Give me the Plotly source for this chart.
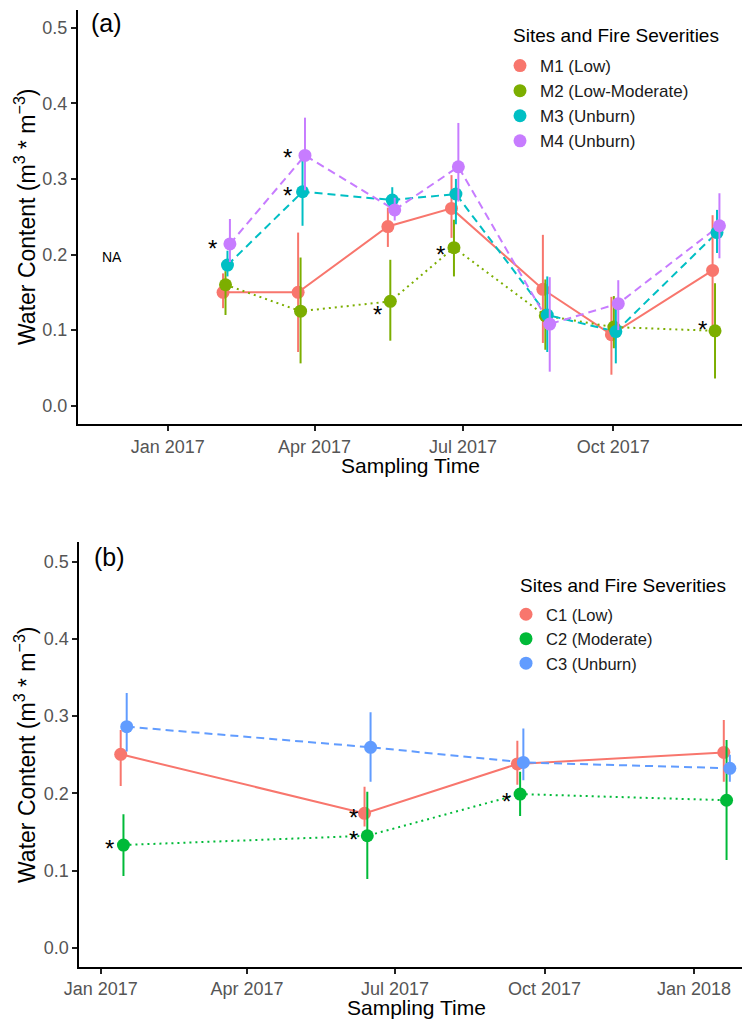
import pandas as pd
import plotly.graph_objects as go

# ---------------- Panel (a) data ----------------
a_dates = ["2017-02-06", "2017-03-24", "2017-05-18", "2017-06-26",
           "2017-08-21", "2017-10-02", "2017-12-03"]
a_sites = ["M1 (Low)", "M2 (Low-Moderate)", "M3 (Unburn)", "M4 (Unburn)"]
a_colors = ["#F8766D", "#7CAE00", "#00BFC4", "#C77CFF"]
a_dashes = ["solid", "2px,4px", "8px,5px", "8px,5px"]

m1_mean = [0.150, 0.150, 0.237, 0.261, 0.154, 0.094, 0.179]
m1_low = [0.129, 0.071, 0.210, 0.222, 0.083, 0.041, 0.105]
m1_high = [0.175, 0.229, 0.262, 0.305, 0.226, 0.144, 0.252]

m2_mean = [0.160, 0.125, 0.138, 0.209, 0.119, 0.104, 0.099]
m2_low = [0.120, 0.056, 0.086, 0.171, 0.074, 0.076, 0.036]
m2_high = [0.178, 0.196, 0.193, 0.246, 0.167, 0.145, 0.162]

m3_mean = [0.186, 0.283, 0.272, 0.280, 0.120, 0.098, 0.229]
m3_low = [0.171, 0.238, 0.257, 0.240, 0.071, 0.056, 0.202]
m3_high = [0.205, 0.330, 0.289, 0.300, 0.171, 0.140, 0.259]

m4_mean = [0.214, 0.331, 0.259, 0.316, 0.108, 0.135, 0.238]
m4_low = [0.190, 0.285, 0.245, 0.270, 0.045, 0.100, 0.195]
m4_high = [0.247, 0.381, 0.275, 0.374, 0.170, 0.166, 0.281]

# significance asterisks (sampling index, value)
a_star_idx = [0, 1, 1, 2, 3, 6]
a_star_val = [0.215, 0.335, 0.284, 0.127, 0.206, 0.107]
a_na_date = "2016-11-28"
a_na_val = 0.197

a_tickvals = ["2017-01-01", "2017-04-01", "2017-07-01", "2017-10-01"]
a_ticktext = ["Jan 2017", "Apr 2017", "Jul 2017", "Oct 2017"]

# ---------------- Panel (b) data ----------------
b_dates = ["2017-01-15", "2017-06-14", "2017-09-16", "2018-01-21"]
b_sites = ["C1 (Low)", "C2 (Moderate)", "C3 (Unburn)"]
b_colors = ["#F8766D", "#00BA38", "#619CFF"]
b_dashes = ["solid", "2px,4px", "8px,5px"]

c1_mean = [0.2505, 0.174, 0.238, 0.253]
c1_low = [0.2095, 0.157, 0.211, 0.215]
c1_high = [0.282, 0.2086, 0.268, 0.295]

c2_mean = [0.133, 0.145, 0.199, 0.191]
c2_low = [0.093, 0.089, 0.1706, 0.1136]
c2_high = [0.173, 0.202, 0.228, 0.269]

c3_mean = [0.2863, 0.2596, 0.240, 0.2324]
c3_low = [0.254, 0.215, 0.217, 0.215]
c3_high = [0.330, 0.305, 0.284, 0.250]

b_star_idx = [0, 1, 1, 2]
b_star_val = [0.135, 0.175, 0.146, 0.196]

b_tickvals = ["2017-01-01", "2017-04-01", "2017-07-01", "2017-10-01", "2018-01-01"]
b_ticktext = ["Jan 2017", "Apr 2017", "Jul 2017", "Oct 2017", "Jan 2018"]

y_tickvals = [0.0, 0.1, 0.2, 0.3, 0.4, 0.5]
y_ticktext = ["0.0", "0.1", "0.2", "0.3", "0.4", "0.5"]

# ---------------- layout geometry ----------------
# page has an 8px body margin, so the figure is drawn 8px in from the corner
OFF = 8
W, H = 750 - OFF, 1019 - OFF
ML = 78 - OFF
FONT = "Liberation Sans, Arial, sans-serif"
TICKCOL = "#555555"


def px_x(px):
    return (px - OFF - ML) / (W - ML)


def px_y(py):
    return 1 - (py - OFF) / H


a_dodge = [-2.1, -0.6, 0.6, 2.1]
b_dodge = [-1.7, 0.0, 2.0]

fig = go.Figure()


def add_panel(dates, sites, colors, dashes, means, lows, highs, dodge,
              xa, ya, legend):
    base = pd.to_datetime(dates)
    xs_all = []
    for i in range(len(sites)):
        xs_all.append(list(base + pd.Timedelta(days=dodge[i])))
    for i in range(len(sites)):
        fig.add_trace(go.Scatter(
            x=xs_all[i], y=means[i], mode="lines", xaxis=xa, yaxis=ya,
            line=dict(color=colors[i], width=2, dash=dashes[i]),
            showlegend=False, hoverinfo="skip"))
    for i in range(len(sites)):
        up = [h - m for h, m in zip(highs[i], means[i])]
        dn = [m - l for m, l in zip(means[i], lows[i])]
        fig.add_trace(go.Scatter(
            x=xs_all[i], y=means[i], mode="markers", name=sites[i],
            xaxis=xa, yaxis=ya, legend=legend,
            marker=dict(color=colors[i], size=13, line=dict(width=0)),
            error_y=dict(type="data", symmetric=False, array=up,
                         arrayminus=dn, color=colors[i], thickness=2,
                         width=0)))


add_panel(a_dates, a_sites, a_colors, a_dashes,
          [m1_mean, m2_mean, m3_mean, m4_mean],
          [m1_low, m2_low, m3_low, m4_low],
          [m1_high, m2_high, m3_high, m4_high],
          a_dodge, "x", "y", "legend")
add_panel(b_dates, b_sites, b_colors, b_dashes,
          [c1_mean, c2_mean, c3_mean],
          [c1_low, c2_low, c3_low],
          [c1_high, c2_high, c3_high],
          b_dodge, "x2", "y2", "legend2")

annotations = []


def ann(**kw):
    d = dict(showarrow=False, xanchor="center", yanchor="middle")
    d.update(kw)
    annotations.append(d)


for idx, val in zip(a_star_idx, a_star_val):
    ann(x=a_dates[idx], y=val, xref="x", yref="y", text="*",
        xshift=-14, yshift=-5,
        font=dict(size=24, color="black", family=FONT))
for idx, val in zip(b_star_idx, b_star_val):
    ann(x=b_dates[idx], y=val, xref="x2", yref="y2", text="*",
        xshift=-14, yshift=-5,
        font=dict(size=24, color="black", family=FONT))
ann(x=a_na_date, y=a_na_val, xref="x", yref="y", text="NA",
    font=dict(size=14, color="black", family=FONT))

# panel labels
ann(x=px_x(106), y=px_y(23), xref="paper", yref="paper", text="(a)",
    font=dict(size=25, color="black", family=FONT))
ann(x=px_x(109), y=px_y(557), xref="paper", yref="paper", text="(b)",
    font=dict(size=25, color="black", family=FONT))

# axis titles
ytitle = "Water Content (m<sup>3</sup> * m<sup>\u22123</sup>)"
for cy in (217, 755):
    ann(x=px_x(25), y=px_y(cy), xref="paper", yref="paper", text=ytitle,
        textangle=-90, font=dict(size=23, color="black", family=FONT))
for cx, cy in ((410, 465), (416, 1007)):
    ann(x=px_x(cx), y=px_y(cy), xref="paper", yref="paper",
        text="Sampling Time", font=dict(size=21, color="black", family=FONT))

# legend titles
ann(x=px_x(511), y=px_y(35), xref="paper", yref="paper", xanchor="left",
    text="Sites and Fire Severities",
    font=dict(size=19, color="black", family=FONT))
ann(x=px_x(518), y=px_y(585), xref="paper", yref="paper", xanchor="left",
    text="Sites and Fire Severities",
    font=dict(size=19, color="black", family=FONT))

axis_common = dict(showline=True, linecolor="black", linewidth=2,
                   ticks="outside", ticklen=5, tickwidth=2, tickcolor="#222222",
                   showgrid=False, zeroline=False,
                   tickfont=dict(size=18, color=TICKCOL, family=FONT))

fig.update_layout(
    width=W, height=H,
    margin=dict(l=ML, r=0, t=0, b=0),
    paper_bgcolor="white", plot_bgcolor="white",
    font=dict(family=FONT),
    xaxis=dict(domain=[0, 1], anchor="y", type="date",
               range=["2016-11-07", "2017-12-23 20:00"],
               tickvals=a_tickvals, ticktext=a_ticktext, **axis_common),
    yaxis=dict(domain=[px_y(424), px_y(10)], anchor="x",
               range=[-0.0242, 0.5234], tickvals=y_tickvals,
               ticktext=y_ticktext, **axis_common),
    xaxis2=dict(domain=[px_x(79.3), 1], anchor="y2", type="date",
                range=["2016-12-18 20:00", "2018-02-04 10:00"],
                tickvals=b_tickvals, ticktext=b_ticktext, **axis_common),
    yaxis2=dict(domain=[px_y(966.7), px_y(542)], anchor="x2",
                range=[-0.0246, 0.5255], tickvals=y_tickvals,
                ticktext=y_ticktext, **axis_common),
    legend=dict(x=px_x(500), y=px_y(48), xanchor="left", yanchor="top",
                bgcolor="rgba(0,0,0,0)", borderwidth=0,
                font=dict(size=17, color="#1a1a1a", family=FONT)),
    legend2=dict(x=px_x(506), y=px_y(597), xanchor="left", yanchor="top",
                 bgcolor="rgba(0,0,0,0)", borderwidth=0,
                 font=dict(size=16.5, color="#1a1a1a", family=FONT)),
    annotations=annotations,
)

fig.write_html("out.html")
